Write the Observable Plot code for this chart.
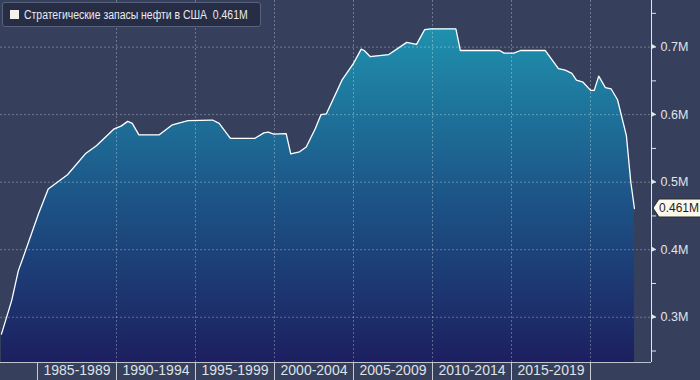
<!DOCTYPE html>
<html>
<head>
<meta charset="utf-8">
<script src="https://cdn.jsdelivr.net/npm/d3@7"></script>
<script src="https://cdn.jsdelivr.net/npm/@observablehq/plot@0.6"></script>
<style>
  html, body { margin: 0; padding: 0; background: #363f5b; }
  #wrap { position: relative; width: 700px; height: 380px; overflow: hidden; }
  #legend {
    position: absolute; left: 2px; top: 2px; width: 257px; height: 23px;
    background: #262d44; border: 1px solid #59627c; border-radius: 3px;
    font-family: "Liberation Sans", Arial, sans-serif; font-size: 12px; color: #e9ebf0;
    display: flex; align-items: center; box-sizing: content-box; white-space: pre; overflow: hidden;
  }
  #legend .sw { width: 9px; height: 9px; background: #f4f1ea; margin: 0 5px 0 7px; flex: none; }
  #legtext { display: inline-block; transform: scaleX(0.87); transform-origin: left center; }
</style>
</head>
<body>
<div id="wrap"><div id="legend"><span class="sw"></span><span id="legtext"></span></div></div>
<script>
// ---- data ----
const seriesName = "Стратегические запасы нефти в США";
const lastLabel = "0.461M";
const years = [1982.72, 1983.37, 1983.79, 1984.07, 1985.06, 1985.68, 1986.9, 1988.03, 1988.73, 1989.86,
  1990.29, 1990.71, 1991.0, 1991.42, 1992.69, 1993.54, 1994.53, 1996.08, 1996.5, 1997.21,
  1998.77, 1999.33, 1999.61, 1999.95, 2000.74, 2001.03, 2001.59, 2002.01, 2002.58, 2002.94,
  2003.28, 2004.27, 2004.98, 2005.49, 2005.68, 2006.05, 2007.24, 2008.37, 2008.99, 2009.51,
  2009.92, 2011.48, 2011.76, 2014.25, 2014.53, 2015.15, 2015.57, 2017.13, 2017.97, 2018.4,
  2018.82, 2019.11, 2019.53, 2020.01, 2020.24, 2020.52, 2020.94, 2021.31, 2021.71, 2022.27,
  2022.55, 2022.78];
const values = [0.275, 0.325, 0.369, 0.387, 0.453, 0.490, 0.511, 0.542, 0.554, 0.579,
  0.583, 0.590, 0.587, 0.570, 0.570, 0.585, 0.591, 0.592, 0.587, 0.565,
  0.565, 0.573, 0.574, 0.571, 0.572, 0.542, 0.545, 0.552, 0.579, 0.600,
  0.601, 0.651, 0.675, 0.697, 0.695, 0.686, 0.689, 0.707, 0.704, 0.726,
  0.727, 0.727, 0.695, 0.695, 0.691, 0.691, 0.695, 0.695, 0.668, 0.666,
  0.661, 0.651, 0.648, 0.636, 0.636, 0.657, 0.640, 0.638, 0.622, 0.569,
  0.500, 0.461];
const periodLabels = ["1985-1989", "1990-1994", "1995-1999", "2000-2004", "2005-2009", "2010-2014", "2015-2019"];
const periodStarts = [1985, 1990, 1995, 2000, 2005, 2010, 2015];
const periodBounds = [1985, 1990, 1995, 2000, 2005, 2010, 2015, 2020];
const gridYears = [1990, 1995, 2000, 2005, 2010, 2015, 2020];
const yTicks = [0.3, 0.4, 0.5, 0.6, 0.7];
const yMinorTicks = [0.25, 0.35, 0.45, 0.55, 0.65, 0.75];

// ---- build ----
const data = years.map((t, i) => ({t, v: values[i]}));
const periodMid = periodStarts.map(s => s + 2.5);
const xDomain = [1982.66, 2023.86];
const yDomain = [0.233, 0.769];
const lastVal = values[values.length - 1];
const axisColor = "#e1e4ea";

document.getElementById("legtext").textContent = seriesName + "  " + lastLabel;

const gradient = () => {
  const defs = d3.create("svg:defs");
  const g = defs.append("linearGradient").attr("id", "spr-grad")
    .attr("gradientUnits", "userSpaceOnUse").attr("x1", 0).attr("x2", 0).attr("y1", 0).attr("y2", 362);
  g.append("stop").attr("offset", "0.08").attr("stop-color", "#1f90ad");
  g.append("stop").attr("offset", "0.5").attr("stop-color", "#1d5a8b");
  g.append("stop").attr("offset", "1").attr("stop-color", "#1c1f60");
  return defs.node();
};

const arrows = (index, scales) => {
  const g = d3.create("svg:g");
  const x0 = scales.x(xDomain[1]);
  for (const t of yTicks) {
    const y = scales.y(t);
    g.append("path").attr("d", `M${x0},${y - 3}L${x0 + 5},${y}L${x0},${y + 3}Z`).attr("fill", axisColor);
  }
  return g.node();
};

const tag = (index, scales) => {
  const g = d3.create("svg:g");
  const x0 = scales.x(xDomain[1]) + 2, y0 = scales.y(lastVal);
  g.append("path")
    .attr("d", `M${x0},${y0}L${x0 + 6},${y0 - 9}L${x0 + 60},${y0 - 9}L${x0 + 60},${y0 + 9}L${x0 + 6},${y0 + 9}Z`)
    .attr("fill", "#fdf8ec").attr("stroke", "#2a2a2a").attr("stroke-width", 1);
  g.append("text").attr("x", x0 + 6).attr("y", y0).attr("dy", "0.36em")
    .attr("text-anchor", "start")
    .attr("fill", "#1d1d1d").attr("font-size", 12).text(lastLabel);
  return g.node();
};

const chart = Plot.plot({
  width: 700,
  height: 380,
  marginLeft: 0,
  marginTop: 0,
  marginRight: 49,
  marginBottom: 18,
  style: {background: "transparent", color: axisColor, fontFamily: "'Liberation Sans', Arial, sans-serif", fontSize: "12.5px"},
  x: {domain: xDomain, axis: null, label: null},
  y: {domain: yDomain, axis: null, label: null},
  marks: [
    gradient,
    Plot.areaY(data, {x: "t", y1: yDomain[0], y2: "v", fill: "url(#spr-grad)"}),
    Plot.ruleY(yTicks, {stroke: "#ffffff", strokeOpacity: 0.3, strokeDasharray: "2,2"}),
    Plot.ruleX(gridYears, {stroke: "#ffffff", strokeOpacity: 0.3, strokeDasharray: "2,2"}),
    Plot.lineY(data, {x: "t", y: "v", stroke: "#ffffff", strokeWidth: 1.3}),
    Plot.ruleX([xDomain[1]], {stroke: axisColor, strokeWidth: 1}),
    Plot.ruleY([yDomain[0]], {stroke: axisColor, strokeOpacity: 0.8, strokeWidth: 1}),
    Plot.axisY(yMinorTicks, {anchor: "right", label: null, tickSize: 4, tickFormat: () => "", stroke: axisColor}),
    Plot.axisY(yTicks, {anchor: "right", label: null, tickSize: 4, tickPadding: 5, tickFormat: d => d.toFixed(1) + "M", stroke: axisColor, fill: axisColor, fontSize: 12.5}),
    arrows,
    Plot.axisX(periodBounds, {anchor: "bottom", label: null, tickSize: 18, tickFormat: () => "", stroke: "#c9cdd6"}),
    Plot.axisX(periodMid, {anchor: "bottom", label: null, tickSize: 0, tickPadding: 3, tickFormat: (d, i) => periodLabels[i], fill: "#dfe2e8", fontSize: 14}),
    tag
  ]
});
document.getElementById("wrap").prepend(chart);
</script>
</body>
</html>
